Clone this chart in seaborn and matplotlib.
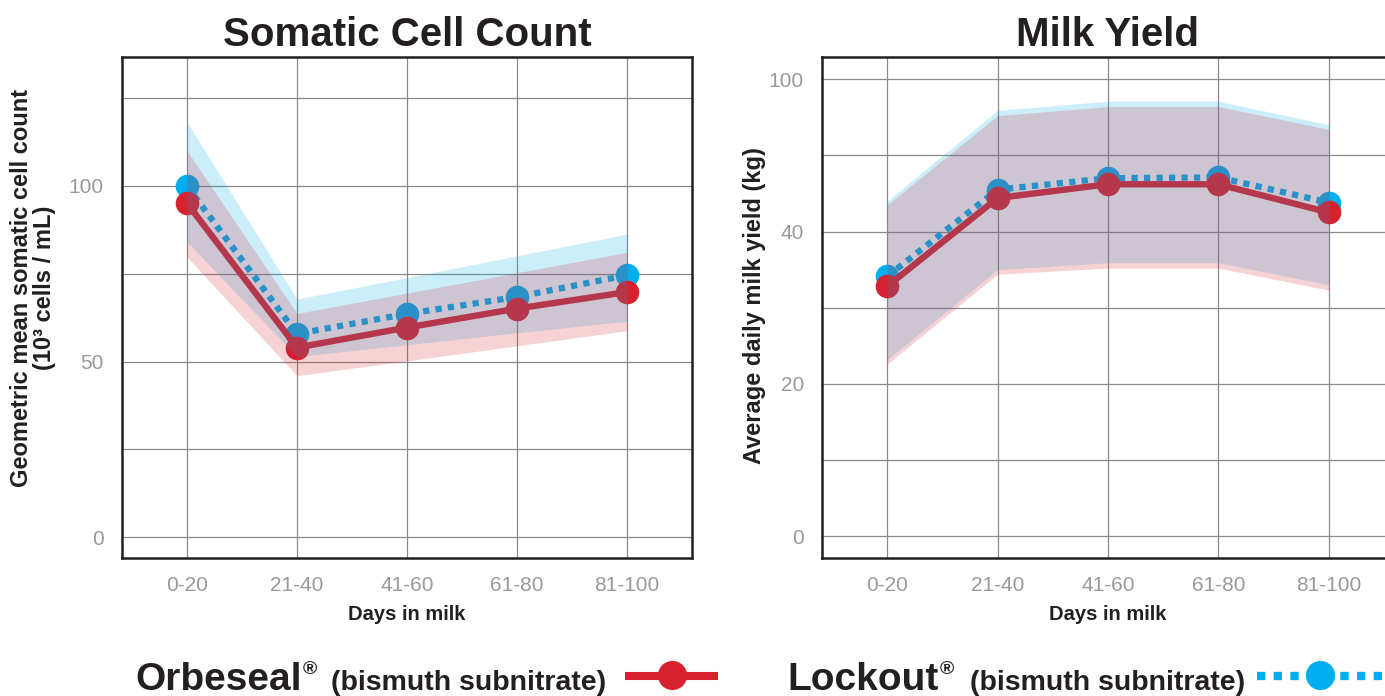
import pandas as pd
import matplotlib
matplotlib.use("Agg")
import matplotlib.pyplot as plt
from matplotlib.lines import Line2D
import seaborn as sns

# --- datos ---
days = ["0-20", "21-40", "41-60", "61-80", "81-100"]

scc_orbeseal = [95.1, 54.0, 59.7, 65.1, 69.8]
scc_orbeseal_lo = [79.8, 46.0, 50.2, 54.5, 58.8]
scc_orbeseal_hi = [110.0, 63.7, 69.5, 75.3, 81.1]
scc_lockout = [100.0, 57.9, 63.6, 68.4, 74.6]
scc_lockout_lo = [84.1, 51.4, 54.8, 58.2, 61.5]
scc_lockout_hi = [118.2, 67.8, 73.9, 80.1, 86.3]
scc_yticks = [0, 25, 50, 75, 100, 125]
scc_ytick_labels = ["0", "", "50", "", "100", ""]

milk_orbeseal = [32.8, 44.4, 46.2, 46.2, 42.5]
milk_orbeseal_lo = [22.6, 34.4, 35.2, 35.2, 32.3]
milk_orbeseal_hi = [43.5, 55.2, 56.4, 56.4, 53.4]
milk_lockout = [34.1, 45.5, 47.0, 47.1, 43.8]
milk_lockout_lo = [23.2, 35.0, 35.9, 35.9, 33.0]
milk_lockout_hi = [44.0, 55.9, 57.1, 57.1, 54.0]
milk_yticks = [0, 10, 20, 30, 40, 50, 60]
milk_ytick_labels = ["0", "", "20", "", "40", "", "100"]

RED = "#d7212e"
BLUE = "#00aeef"
GRID = "#8a8a8a"
TICK_TXT = "#999999"
INK = "#231f20"

sns.set_style("white")
plt.rcParams["font.family"] = ["Liberation Sans", "DejaVu Sans"]

fig = plt.figure(figsize=(13.85, 6.96), dpi=100)
ax1 = fig.add_axes([0.0881, 0.1983, 0.4116, 0.7198])
ax2 = fig.add_axes([0.5935, 0.1983, 0.4130, 0.7198])


def panel(ax, orb, orb_lo, orb_hi, lock, lock_lo, lock_hi):
    df = pd.DataFrame({"days": days * 2,
                       "value": lock + orb,
                       "product": ["Lockout"] * 5 + ["Orbeseal"] * 5})
    sns.lineplot(data=df[df["product"] == "Lockout"], x="days", y="value",
                 color=BLUE, lw=4.5, marker="o", ms=17, markeredgewidth=0,
                 sort=False, ax=ax, zorder=2)
    ln = ax.lines[-1]
    ln.set_dashes([1, 1])
    ln.set_dash_capstyle("butt")
    sns.lineplot(data=df[df["product"] == "Orbeseal"], x="days", y="value",
                 color=RED, lw=4.6, marker="o", ms=17, markeredgewidth=0,
                 sort=False, ax=ax, zorder=2)
    # bandas encima de las lineas (como en el original)
    ax.fill_between(days, lock_lo, lock_hi, color=BLUE, alpha=0.2, lw=0, zorder=3)
    ax.fill_between(days, orb_lo, orb_hi, color=RED, alpha=0.2, lw=0, zorder=3)

    ax.set_xlim(-0.59, 4.59)
    ax.set_axisbelow(True)
    ax.grid(True, color=GRID, lw=0.9)
    ax.tick_params(axis="both", length=11, width=0.9, color=GRID,
                   labelcolor=TICK_TXT, labelsize=15, pad=2)
    for s in ax.spines.values():
        s.set_color(INK)
        s.set_linewidth(1.8)
        s.set_zorder(5)
    ax.set_xlabel("Days in milk", fontsize=14.5, fontweight="bold", color=INK)
    ax.xaxis.set_label_coords(0.5, -0.094)


panel(ax1, scc_orbeseal, scc_orbeseal_lo, scc_orbeseal_hi,
      scc_lockout, scc_lockout_lo, scc_lockout_hi)
ax1.set_ylim(-5.9, 136.7)
ax1.set_yticks(scc_yticks)
ax1.set_yticklabels(scc_ytick_labels)
ax1.set_title("Somatic Cell Count", fontsize=29, fontweight="bold", pad=8, color=INK)
ax1.set_ylabel("Geometric mean somatic cell count\n(10³ cells / mL)",
               fontsize=17, fontweight="bold", linespacing=1.0, color=INK)
ax1.yaxis.set_label_coords(-0.115, 0.54)

panel(ax2, milk_orbeseal, milk_orbeseal_lo, milk_orbeseal_hi,
      milk_lockout, milk_lockout_lo, milk_lockout_hi)
ax2.set_ylim(-2.84, 62.9)
ax2.set_yticks(milk_yticks)
ax2.set_yticklabels(milk_ytick_labels)
ax2.set_title("Milk Yield", fontsize=29, fontweight="bold", pad=8, color=INK)
ax2.set_ylabel("Average daily milk yield (kg)", fontsize=17,
               fontweight="bold", color=INK)
ax2.yaxis.set_label_coords(-0.098, 0.503)

# --- leyenda inferior ---
W, H = 1385, 696
renderer = fig.canvas.get_renderer()
base = 1 - 690 / H


def legend_label(x0, name, x_desc):
    t = fig.text(x0 / W, base, name, fontsize=28, fontweight="bold",
                 va="baseline", color=INK)
    x_end = t.get_window_extent(renderer).x1
    fig.text((x_end + 1) / W, 1 - 674 / H, "®", fontsize=14, fontweight="bold",
             va="baseline", color=INK)
    fig.text(x_desc / W, base, "(bismuth subnitrate)", fontsize=20.5,
             fontweight="bold", va="baseline", color=INK)


legend_label(135, "Orbeseal", 331)
fig.add_artist(Line2D([625 / W, 718 / W], [1 - 676 / H] * 2, transform=fig.transFigure,
                      color=RED, lw=5.8, solid_capstyle="butt"))
fig.add_artist(Line2D([672 / W], [1 - 675 / H], transform=fig.transFigure,
                      color=RED, marker="o", ms=21, markeredgewidth=0))

legend_label(787, "Lockout", 970)
lk = Line2D([1257 / W, 1385 / W], [1 - 676 / H] * 2, transform=fig.transFigure,
            color=BLUE, lw=6, solid_capstyle="butt", dash_capstyle="butt")
lk.set_dashes([1, 1])
fig.add_artist(lk)
fig.add_artist(Line2D([1320 / W], [1 - 675 / H], transform=fig.transFigure,
                      color=BLUE, marker="o", ms=21, markeredgewidth=0))

fig.savefig("out.png", dpi=100)
